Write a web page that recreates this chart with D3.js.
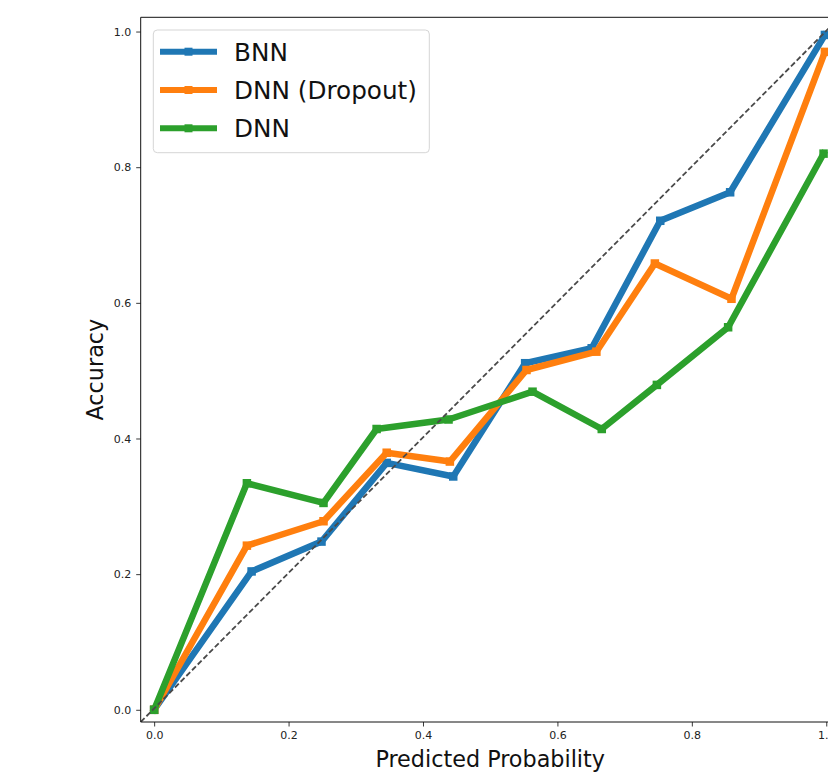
<!DOCTYPE html>
<html>
<head>
<meta charset="utf-8">
<script src="https://cdn.jsdelivr.net/npm/d3@7"></script>
<style>
  html, body { margin: 0; padding: 0; background: #fff; }
  svg { display: block; font-family: "DejaVu Sans", sans-serif; }
</style>
</head>
<body>
<svg id="chart" width="828" height="773"></svg>
<script>
// ---- data ----
const seriesNames = ["BNN", "DNN (Dropout)", "DNN"];
const bnnX = [0, 0.145, 0.249, 0.346, 0.445, 0.552, 0.651, 0.753, 0.857, 0.998];
const bnnY = [0, 0.204, 0.248, 0.364, 0.344, 0.511, 0.533, 0.721, 0.763, 0.995];
const dropX = [0, 0.138, 0.252, 0.346, 0.440, 0.554, 0.658, 0.745, 0.859, 0.998];
const dropY = [0, 0.242, 0.278, 0.379, 0.366, 0.501, 0.528, 0.658, 0.606, 0.970];
const dnnX = [0, 0.138, 0.252, 0.331, 0.438, 0.563, 0.666, 0.748, 0.854, 0.996];
const dnnY = [0, 0.334, 0.305, 0.414, 0.428, 0.469, 0.414, 0.479, 0.564, 0.820];
const xTicks = [0, 0.2, 0.4, 0.6, 0.8, 1.0];
const yTicks = [0, 0.2, 0.4, 0.6, 0.8, 1.0];
const xLabel = "Predicted Probability";
const yLabel = "Accuracy";

const colors = ["#1f77b4", "#ff7f0e", "#2ca02c"];
const series = [
  { name: seriesNames[0], xs: bnnX, ys: bnnY, color: colors[0] },
  { name: seriesNames[1], xs: dropX, ys: dropY, color: colors[1] },
  { name: seriesNames[2], xs: dnnX, ys: dnnY, color: colors[2] }
];

(function () {
const svg = d3.select("#chart");
const pL = 140.7, pR = 839.7, pT = 17.3, pB = 722;

const x = d3.scaleLinear().domain([-0.02, 1.02]).range([pL, pR]);
const y = d3.scaleLinear().domain([-0.018, 1.021]).range([pB, pT]);

// clip
svg.append("defs").append("clipPath").attr("id", "plotclip")
  .append("rect").attr("x", pL).attr("y", pT)
  .attr("width", pR - pL).attr("height", pB - pT);

const plot = svg.append("g").attr("clip-path", "url(#plotclip)");

const line = d3.line().x(d => x(d[0])).y(d => y(d[1]));
const ms = 8.5;

series.forEach(s => {
  const pts = s.xs.map((v, i) => [v, s.ys[i]]);
  plot.append("path").datum(pts)
    .attr("d", line)
    .attr("fill", "none")
    .attr("stroke", s.color)
    .attr("stroke-width", 6.5)
    .attr("stroke-linejoin", "round")
    .attr("stroke-linecap", "square");
  plot.selectAll(null).data(pts).enter().append("rect")
    .attr("x", d => x(d[0]) - ms / 2)
    .attr("y", d => y(d[1]) - ms / 2)
    .attr("width", ms).attr("height", ms)
    .attr("fill", s.color);
});

// diagonal reference (corner to corner of axes)
plot.append("line")
  .attr("x1", pL).attr("y1", pB)
  .attr("x2", pR).attr("y2", pT)
  .attr("stroke", "#4a4a4a")
  .attr("stroke-width", 1.8)
  .attr("stroke-dasharray", "5.5,2.6");

// axes
const xAxis = svg.append("g").attr("transform", `translate(0,${pB})`)
  .call(d3.axisBottom(x).tickValues(xTicks).tickFormat(d3.format(".1f")).tickSize(4.5).tickPadding(5));
const yAxis = svg.append("g").attr("transform", `translate(${pL},0)`)
  .call(d3.axisLeft(y).tickValues(yTicks).tickFormat(d3.format(".1f")).tickSize(4.5).tickPadding(5));
[xAxis, yAxis].forEach(a => {
  a.select(".domain").remove();
  a.selectAll("text").attr("font-size", 11).attr("fill", "#222").attr("font-family", "DejaVu Sans");
  a.selectAll("line").attr("stroke", "#222").attr("stroke-width", 0.9);
});

// spines
const spine = (x1, y1, x2, y2) => svg.append("line")
  .attr("x1", x1).attr("y1", y1).attr("x2", x2).attr("y2", y2)
  .attr("stroke", "#111").attr("stroke-width", 1);
spine(pL, pB, pR, pB);
spine(pL, pT, pR, pT);
spine(pL, pT, pL, pB);
spine(pR, pT, pR, pB);

// axis labels
svg.append("text").attr("x", (pL + pR) / 2).attr("y", 766.5)
  .attr("text-anchor", "middle").attr("font-size", 22.3).attr("fill", "#111").text(xLabel);
svg.append("text").attr("transform", `translate(103,${(pT + pB) / 2}) rotate(-90)`)
  .attr("text-anchor", "middle").attr("font-size", 22.3).attr("fill", "#111").text(yLabel);

// legend
const lg = svg.append("g");
lg.append("rect").attr("x", 153.3).attr("y", 30).attr("width", 276).attr("height", 122.7)
  .attr("rx", 4).attr("fill", "#fff").attr("fill-opacity", 0.85)
  .attr("stroke", "#d5d5d5").attr("stroke-width", 1);
const rowY = [51.7, 90, 128.3];
series.forEach((s, i) => {
  lg.append("line").attr("x1", 160).attr("x2", 217).attr("y1", rowY[i]).attr("y2", rowY[i])
    .attr("stroke", s.color).attr("stroke-width", 6);
  lg.append("rect").attr("x", 188.5 - 4).attr("y", rowY[i] - 4).attr("width", 8).attr("height", 8)
    .attr("fill", s.color);
  lg.append("text").attr("x", 234).attr("y", rowY[i] + 8.8)
    .attr("font-size", 24.7).attr("fill", "#111").text(s.name);
});
})();
</script>
</body>
</html>
